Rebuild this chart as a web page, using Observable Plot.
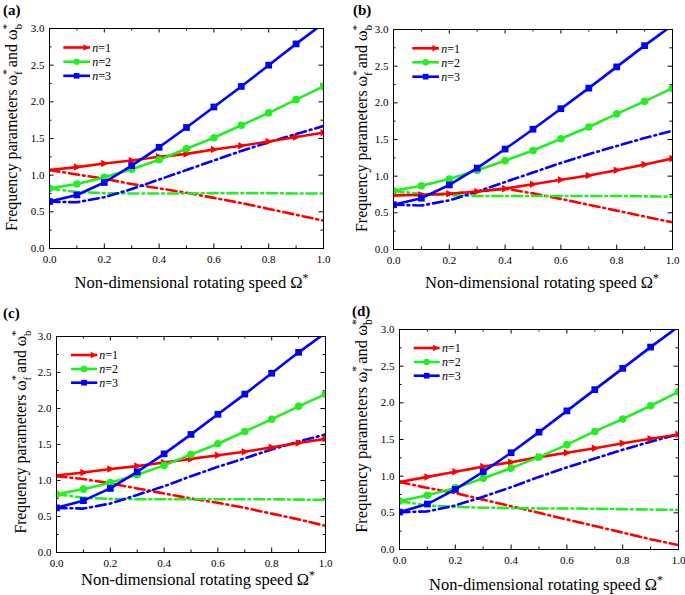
<!DOCTYPE html>
<html><head><meta charset="utf-8">
<script src="https://cdn.jsdelivr.net/npm/d3@7"></script>
<script src="https://cdn.jsdelivr.net/npm/@observablehq/plot@0.6"></script>
<style>
html,body{margin:0;padding:0;background:#fff;}
#root{position:relative;width:685px;height:595px;overflow:hidden;font-family:"Liberation Serif","Times New Roman",serif;}
#root svg{position:absolute;overflow:visible;}
</style></head><body><div id="root"></div>
<script>
// ---------- data ----------
const omega = [0, 0.1, 0.2, 0.3, 0.4, 0.5, 0.6, 0.7, 0.8, 0.9, 1.0];
const xMajor = [0, 0.2, 0.4, 0.6, 0.8, 1.0];
const xMinor = [0.1, 0.3, 0.5, 0.7, 0.9];
const yMajor = [0, 0.5, 1.0, 1.5, 2.0, 2.5, 3.0];
const yMinor = [0.25, 0.75, 1.25, 1.75, 2.25, 2.75];
const modeNumbers = [1, 2, 3];
const panelLabels = ["(a)", "(b)", "(c)", "(d)"];

// panel (a): forward (solid, markers) and backward (dash-dot)
const a_f1 = [1.07, 1.11, 1.16, 1.20, 1.25, 1.29, 1.35, 1.40, 1.46, 1.52, 1.58];
const a_f2 = [0.82, 0.88, 0.97, 1.08, 1.21, 1.36, 1.51, 1.68, 1.85, 2.03, 2.21];
const a_f3 = [0.64, 0.73, 0.90, 1.13, 1.38, 1.65, 1.93, 2.21, 2.50, 2.79, 3.07];
const a_b1 = [1.07, 1.01, 0.95, 0.88, 0.82, 0.76, 0.69, 0.62, 0.54, 0.46, 0.38];
const a_b2 = [0.82, 0.77, 0.755, 0.75, 0.75, 0.75, 0.755, 0.755, 0.755, 0.75, 0.75];
const a_b3 = [0.64, 0.63, 0.70, 0.81, 0.94, 1.07, 1.20, 1.33, 1.45, 1.56, 1.67];

// panel (b)
const b_f1 = [0.74, 0.745, 0.76, 0.79, 0.83, 0.89, 0.95, 1.01, 1.08, 1.16, 1.24];
const b_f2 = [0.80, 0.87, 0.96, 1.08, 1.21, 1.35, 1.51, 1.67, 1.85, 2.02, 2.20];
const b_f3 = [0.61, 0.70, 0.88, 1.11, 1.37, 1.64, 1.92, 2.20, 2.49, 2.78, 3.06];
const b_b1 = [0.74, 0.745, 0.76, 0.79, 0.83, 0.765, 0.69, 0.61, 0.53, 0.45, 0.37];
const b_b2 = [0.80, 0.76, 0.74, 0.73, 0.73, 0.73, 0.73, 0.73, 0.73, 0.725, 0.72];
const b_b3 = [0.61, 0.60, 0.67, 0.79, 0.92, 1.05, 1.18, 1.30, 1.41, 1.52, 1.62];

// panel (c)
const c_f1 = [1.07, 1.11, 1.16, 1.20, 1.25, 1.30, 1.35, 1.40, 1.46, 1.52, 1.58];
const c_f2 = [0.81, 0.88, 0.97, 1.08, 1.21, 1.36, 1.51, 1.68, 1.85, 2.03, 2.20];
const c_f3 = [0.62, 0.72, 0.89, 1.12, 1.37, 1.64, 1.92, 2.20, 2.49, 2.78, 3.05];
const c_b1 = [1.06, 1.02, 0.96, 0.89, 0.82, 0.75, 0.69, 0.62, 0.54, 0.46, 0.37];
const c_b2 = [0.81, 0.76, 0.745, 0.74, 0.74, 0.74, 0.74, 0.74, 0.74, 0.735, 0.73];
const c_b3 = [0.62, 0.61, 0.68, 0.80, 0.92, 1.06, 1.19, 1.31, 1.43, 1.54, 1.64];

// panel (d)
const d_f1 = [0.92, 0.99, 1.06, 1.13, 1.19, 1.26, 1.32, 1.38, 1.45, 1.51, 1.57];
const d_f2 = [0.66, 0.74, 0.84, 0.97, 1.11, 1.26, 1.43, 1.61, 1.78, 1.96, 2.15];
const d_f3 = [0.51, 0.62, 0.82, 1.06, 1.32, 1.60, 1.89, 2.18, 2.47, 2.76, 3.04];
const d_b1 = [0.92, 0.84, 0.77, 0.68, 0.59, 0.50, 0.41, 0.32, 0.23, 0.14, 0.06];
const d_b2 = [0.66, 0.60, 0.58, 0.57, 0.565, 0.56, 0.56, 0.555, 0.55, 0.545, 0.54];
const d_b3 = [0.51, 0.52, 0.60, 0.72, 0.85, 0.99, 1.12, 1.24, 1.36, 1.47, 1.57];

// ---------- style / layout ----------
const colors = ["#ff0000", "#22ee22", "#0000ff"];
const triRight = {draw(ctx, size) {
  const s = Math.sqrt(size);
  ctx.moveTo(0.62 * s, 0); ctx.lineTo(-0.45 * s, -0.56 * s); ctx.lineTo(-0.45 * s, 0.56 * s); ctx.closePath();
}};
const symbols = [triRight, "circle", "square"];
const d3symbols = [triRight, d3.symbolCircle, d3.symbolSquare];
const R = 3.8;
const LW = 2.6;
const dashDot = "10,4,1.8,4";

const layouts = [
  {left: 0, top: 0, width: 342, height: 297, mL: 49, mR: 19, mT: 28, mB: 49,
   lab: [3, 15], xt: [191.5, 288, 16.5], yt: [17, 127.5, 16], lg: [14.3, 41, 43.3, 19.5, 33.7, 47.8]},
  {left: 342, top: 0, width: 343, height: 297, mL: 51, mR: 13, mT: 29, mB: 48,
   lab: [11, 15], xt: [200, 288, 16.5], yt: [25, 128.5, 16], lg: [19.3, 46, 48.3, 19.3, 33.3, 47.7]},
  {left: 0, top: 297, width: 342, height: 298, mL: 56, mR: 17, mT: 39, mB: 43,
   lab: [3, 21], xt: [198, 288, 16.5], yt: [26, 135, 15.7], lg: [15, 41.3, 43.3, 19, 33, 46.7]},
  {left: 342, top: 297, width: 343, height: 298, mL: 57, mR: 7, mT: 32, mB: 46,
   lab: [10, 19], xt: [204, 293, 16.5], yt: [25, 129, 16.5], lg: [14.7, 40.7, 43, 19, 33, 46.7]}
];
const panelData = [
  {fwd: [a_f1, a_f2, a_f3], bwd: [a_b1, a_b2, a_b3]},
  {fwd: [b_f1, b_f2, b_f3], bwd: [b_b1, b_b2, b_b3]},
  {fwd: [c_f1, c_f2, c_f3], bwd: [c_b1, c_b2, c_b3]},
  {fwd: [d_f1, d_f2, d_f3], bwd: [d_b1, d_b2, d_b3]}
];

const rows = (ys) => omega.map((x, i) => ({x, y: ys[i]}));
const root = document.getElementById("root");
const font = '"Liberation Serif","Times New Roman",serif';

panelData.forEach((pd, pi) => {
  const L = layouts[pi];
  const fw = L.width - L.mL - L.mR, fh = L.height - L.mT - L.mB;
  const marks = [];
  // inward ticks on all four sides
  const tk = {stroke: "#000", strokeWidth: 1};
  marks.push(Plot.tickX(xMajor, {x: d => d, insetTop: fh - 4.5, ...tk}));
  marks.push(Plot.tickX(xMajor, {x: d => d, insetBottom: fh - 4.5, ...tk}));
  marks.push(Plot.tickX(xMinor, {x: d => d, insetTop: fh - 2.5, ...tk}));
  marks.push(Plot.tickX(xMinor, {x: d => d, insetBottom: fh - 2.5, ...tk}));
  marks.push(Plot.tickY(yMajor, {y: d => d, insetRight: fw - 4.5, ...tk}));
  marks.push(Plot.tickY(yMajor, {y: d => d, insetLeft: fw - 4.5, ...tk}));
  marks.push(Plot.tickY(yMinor, {y: d => d, insetRight: fw - 2.5, ...tk}));
  marks.push(Plot.tickY(yMinor, {y: d => d, insetLeft: fw - 2.5, ...tk}));
  // backward (dash-dot)
  pd.bwd.forEach((ys, k) => marks.push(Plot.line(rows(ys), {
    x: "x", y: "y", stroke: colors[k], strokeWidth: LW, strokeDasharray: dashDot, clip: true
  })));
  // forward (solid with markers)
  pd.fwd.forEach((ys, k) => {
    marks.push(Plot.line(rows(ys), {x: "x", y: "y", stroke: colors[k], strokeWidth: LW, clip: true}));
    marks.push(Plot.dot(rows(ys), {x: "x", y: "y", symbol: symbols[k], r: R, fill: colors[k], clip: true}));
  });
  marks.push(Plot.frame({stroke: "#000", strokeWidth: 1}));
  marks.push(Plot.axisX({ticks: xMajor, tickFormat: d3.format(".1f"), tickSize: 0, tickPadding: 7, label: null}));
  marks.push(Plot.axisY({ticks: yMajor, tickFormat: d3.format(".1f"), tickSize: 0, tickPadding: 5, label: null}));

  const svg = Plot.plot({
    width: L.width, height: L.height,
    marginLeft: L.mL, marginRight: L.mR, marginTop: L.mT, marginBottom: L.mB,
    x: {domain: [0, 1]}, y: {domain: [0, 3]},
    style: {fontFamily: font, fontSize: "11px", color: "#000", background: "transparent", overflow: "visible"},
    marks
  });
  svg.setAttribute("font-family", "Liberation Serif");
  svg.style.left = L.left + "px";
  svg.style.top = L.top + "px";
  root.appendChild(svg);

  const s = d3.select(svg);
  // panel label
  s.append("text").attr("x", L.lab[0]).attr("y", L.lab[1]).attr("fill", "#000").attr("text-anchor", "start")
    .attr("font-family", "Liberation Serif")
    .style("font-family", font).style("font-size", "15px").style("font-weight", "bold").text(panelLabels[pi]);
  // x title
  const xt = s.append("text").attr("x", L.xt[0]).attr("y", L.xt[1]).attr("text-anchor", "middle").attr("fill", "#000")
    .attr("font-family", "Liberation Serif")
    .style("font-family", font).style("font-size", L.xt[2] + "px");
  xt.append("tspan").text("Non-dimensional rotating speed Ω");
  xt.append("tspan").attr("dy", "-0.5em").style("font-size", "0.72em").text("*");
  // y title
  const fs = L.yt[2], ss = fs * 0.7;
  const yt = s.append("text").attr("transform", `translate(${L.yt[0]},${L.yt[1]}) rotate(-90)`)
    .attr("text-anchor", "middle").attr("fill", "#000")
    .attr("font-family", "Liberation Serif")
    .style("font-family", font).style("font-size", fs + "px");
  yt.append("tspan").text("Frequency parameters ω");
  yt.append("tspan").attr("dy", -0.42 * fs).style("font-size", ss + "px").text("*");
  yt.append("tspan").attr("dx", -0.5 * ss).attr("dy", 0.72 * fs).style("font-size", ss + "px").text("f");
  yt.append("tspan").attr("dy", -0.3 * fs).text(" and ω");
  yt.append("tspan").attr("dy", -0.42 * fs).style("font-size", ss + "px").text("*");
  yt.append("tspan").attr("dx", -0.5 * ss).attr("dy", 0.72 * fs).style("font-size", ss + "px").text("b");
  // legend
  const lg = s.append("g");
  modeNumbers.forEach((n, k) => {
    const y = L.mT + L.lg[3 + k];
    const x0 = L.mL + L.lg[0], x1 = L.mL + L.lg[1];
    lg.append("line").attr("x1", x0).attr("x2", x1).attr("y1", y).attr("y2", y)
      .attr("stroke", colors[k]).attr("stroke-width", LW);
    const mx = k === 0 ? x1 - 4 : (x0 + x1) / 2;
    lg.append("path").attr("d", d3.symbol(d3symbols[k], Math.PI * 3.2 * 3.2)())
      .attr("transform", `translate(${mx},${y})`).attr("fill", colors[k]);
    const t = lg.append("text").attr("x", L.mL + L.lg[2]).attr("y", y).attr("dy", "0.36em").attr("fill", "#000")
      .attr("text-anchor", "start").attr("font-family", "Liberation Serif")
      .style("font-family", font).style("font-size", "12px");
    t.append("tspan").style("font-style", "italic").text("n");
    t.append("tspan").text("=" + n);
  });
});
</script>
</body></html>
